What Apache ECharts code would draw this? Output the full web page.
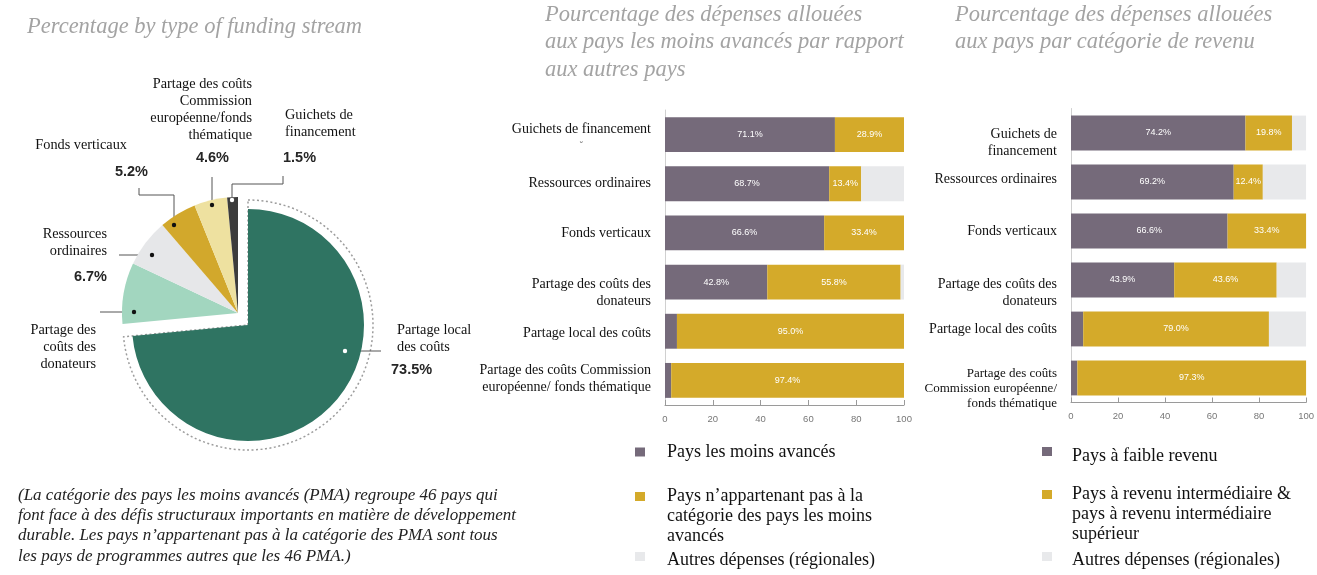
<!DOCTYPE html>
<html>
<head>
<meta charset="utf-8">
<script src="https://cdn.jsdelivr.net/npm/echarts@6/dist/echarts.min.js"></script>
<style>
html,body{margin:0;padding:0;background:#fff;}
#c{width:1317px;height:575px;}
</style>
</head>
<body>
<div id="c"></div>
<script>
// ---------- DATA ----------
const PIE_NAMES = ['Partage local des coûts', 'Partage des coûts des donateurs', 'Ressources ordinaires', 'Fonds verticaux', 'Partage des coûts Commission européenne/fonds thématique', 'Guichets de financement'];
const PIE_LABEL_TEXT = ['Partage local\ndes coûts', 'Partage des\ncoûts des\ndonateurs', 'Ressources\nordinaires', 'Fonds verticaux', 'Partage des coûts\nCommission\neuropéenne/fonds\nthématique', 'Guichets de\nfinancement'];
const PIE_VALUES = [73.5, 8.5, 6.7, 5.2, 4.6, 1.5];
const PIE_VALUE_SHOWN = [true, false, true, true, true, true];

const CATEGORIES = ['Guichets de financement', 'Ressources ordinaires', 'Fonds verticaux', 'Partage des coûts des donateurs', 'Partage local des coûts', 'Partage des coûts Commission européenne/ fonds thématique'];
const CAT_LABELS_1 = ['Guichets de financement\n˘', 'Ressources ordinaires', 'Fonds verticaux', 'Partage des coûts des\ndonateurs', 'Partage local des coûts', 'Partage des coûts Commission\neuropéenne/ fonds thématique'];
const CAT_LABELS_2 = ['Guichets de\nfinancement', 'Ressources ordinaires', 'Fonds verticaux', 'Partage des coûts des\ndonateurs', 'Partage local des coûts', 'Partage des coûts\nCommission européenne/\nfonds thématique'];

const SERIES_1 = ['Pays les moins avancés', 'Pays n’appartenant pas à la catégorie des pays les moins avancés', 'Autres dépenses (régionales)'];
const LEGEND_1 = ['Pays les moins avancés', 'Pays n’appartenant pas à la\ncatégorie des pays les moins\navancés', 'Autres dépenses (régionales)'];
const LDC = [71.1, 68.7, 66.6, 42.8, 5.0, 2.6];
const NON_LDC = [28.9, 13.4, 33.4, 55.8, 95.0, 97.4];
const OTHER_1 = [0, 17.9, 0, 1.4, 0, 0];

const SERIES_2 = ['Pays à faible revenu', 'Pays à revenu intermédiaire & pays à revenu intermédiaire supérieur', 'Autres dépenses (régionales) '];
const LEGEND_2 = ['Pays à faible revenu', 'Pays à revenu intermédiaire &\npays à revenu intermédiaire\nsupérieur', 'Autres dépenses (régionales)'];
const LOW_INC = [74.2, 69.2, 66.6, 43.9, 5.2, 2.7];
const MID_INC = [19.8, 12.4, 33.4, 43.6, 79.0, 97.3];
const OTHER_2 = [6.0, 18.4, 0, 12.5, 15.8, 0];

const X_TICKS = [0, 20, 40, 60, 80, 100];

const TITLES = ['Percentage by type of funding stream', 'Pourcentage des dépenses allouées\naux pays les moins avancés par rapport\naux autres pays', 'Pourcentage des dépenses allouées\naux pays par catégorie de revenu'];
const FOOTNOTE = '(La catégorie des pays les moins avancés (PMA) regroupe 46 pays qui\nfont face à des défis structuraux importants en matière de développement\ndurable. Les pays n’appartenant pas à la catégorie des PMA sont tous\nles pays de programmes autres que les 46 PMA.)';

// ---------- STYLE / LAYOUT ----------
const SERIF = "'Liberation Serif','DejaVu Serif',serif";
const SANS = "'Liberation Sans',Arial,sans-serif";
const PIE_COLORS = ['#2f7462', '#a2d6bf', '#e6e7e9', '#d2a82c', '#eee1a0', '#3c3c3c'];
const C_PURPLE = '#756a7a', C_GOLD = '#d4aa2a', C_GREY = '#e8e9eb';

const PIE_LABEL_POS = [
  {x: 391, y: 321.5, align: 'left', npad: [0, 0, 0, 6], vpad: [0, 0, 0, 0], vlh: 29, line: [[345, 351], [381, 351]], dot: '#fff'},
  {x: 96, y: 321.5, align: 'right', npad: [0, 0, 0, 0], vpad: [0, 0, 0, 0], vlh: 20, line: [[134, 312], [100, 312]], dot: '#111'},
  {x: 107, y: 225.5, align: 'right', npad: [0, 0, 0, 0], vpad: [0, 0, 0, 0], vlh: 35, line: [[152, 255], [119, 255]], dot: '#111'},
  {x: 148, y: 136.5, align: 'right', npad: [0, 21, 0, 0], vpad: [0, 0, 0, 0], vlh: 37, line: [[174, 225], [174, 195], [139, 195], [139, 188]], dot: '#111'},
  {x: 252, y: 75.5, align: 'right', npad: [0, 0, 0, 0], vpad: [0, 23, 0, 0], vlh: 29, line: [[212, 205], [212, 177]], dot: '#111'},
  {x: 283, y: 106.5, align: 'left', npad: [0, 0, 0, 2], vpad: [0, 0, 0, 0], vlh: 35, line: [[232, 200], [232, 184], [283, 184], [283, 176]], dot: '#fff'}
];

function pieItems(visible) {
  return PIE_NAMES.map((name, i) => {
    const on = visible(i);
    const L = PIE_LABEL_POS[i];
    return {
      name: name,
      value: PIE_VALUES[i],
      itemStyle: {color: on ? PIE_COLORS[i] : 'rgba(0,0,0,0)'},
      label: {
        show: on,
        rich: {
          n: {fontFamily: SERIF, fontSize: 14.3, lineHeight: 17, color: '#111', padding: L.npad},
          v: {fontFamily: SANS, fontWeight: 'bold', fontSize: 14.5, color: '#262626', lineHeight: L.vlh, padding: L.vpad}
        }
      },
      labelLine: {show: on}
    };
  });
}

function pieLabelFormatter(p) {
  const i = p.dataIndex;
  let s = PIE_LABEL_TEXT[i].split('\n').map(t => '{n|' + t + '}').join('\n');
  if (PIE_VALUE_SHOWN[i]) s += '\n{v|' + PIE_VALUES[i].toFixed(1) + '%}';
  return s;
}

function pieLabelLayout(p) {
  const L = PIE_LABEL_POS[p.dataIndex];
  return {x: L.x, y: L.y, align: L.align, verticalAlign: 'top', labelLinePoints: L.line};
}

const pieCommon = {
  type: 'pie',
  radius: [0, 116],
  startAngle: 90,
  clockwise: true,
  silent: true,
  avoidLabelOverlap: false,
  label: {position: 'outside', formatter: pieLabelFormatter},
  labelLine: {lineStyle: {color: '#555', width: 1}},
  labelLayout: pieLabelLayout,
  emphasis: {disabled: true}
};

// category label rich formats (vertical fine-tuning with spacer lines)
const CAT_RICH = {
  n: {fontFamily: SERIF, fontSize: 14, lineHeight: 17, color: '#111', align: 'right'},
  n13: {fontFamily: SERIF, fontSize: 13, lineHeight: 15, color: '#111', align: 'right'},
  m: {fontFamily: SANS, fontSize: 9, lineHeight: 15, color: '#666', align: 'center'}
};
[4, 6, 20, 21, 22, 26].forEach(h => { CAT_RICH['s' + h] = {lineHeight: h, fontSize: 1}; });
const lines = (t, st) => t.split('\n').map(x => '{' + st + '|' + x + '}').join('\n');
const CAT_FMT_1 = [
  t => '{s4| }\n{n|' + t.split('\n')[0] + '}\n{m|' + t.split('\n')[1] + '}',
  t => lines(t, 'n'),
  t => lines(t, 'n'),
  t => '{s22| }\n' + lines(t, 'n'),
  t => '{s4| }\n' + lines(t, 'n'),
  t => lines(t, 'n') + '\n{s4| }'
];
const CAT_FMT_2 = [
  t => '{s20| }\n' + lines(t, 'n'),
  t => lines(t, 'n') + '\n{s6| }',
  t => lines(t, 'n'),
  t => '{s26| }\n' + lines(t, 'n'),
  t => lines(t, 'n'),
  t => '{s21| }\n' + lines(t, 'n13')
];

function xAxisCfg(gi) {
  return {
    gridIndex: gi, type: 'value', min: 0, max: 100, interval: 20,
    axisLine: {show: true, lineStyle: {color: '#9a9a9a', width: 1}},
    axisTick: {show: true, inside: true, length: 5, lineStyle: {color: '#9a9a9a'}},
    axisLabel: {fontFamily: SANS, fontSize: 9.5, color: '#777', margin: 9,
      formatter: v => X_TICKS.indexOf(v) >= 0 ? String(v) : ''},
    splitLine: {show: false}
  };
}
function yAxisCfg(gi, labels, fmts) {
  return {
    gridIndex: gi, type: 'category', data: CATEGORIES, inverse: true,
    axisLine: {show: true, lineStyle: {color: '#d0d0d0', width: 1}},
    axisTick: {show: false},
    axisLabel: {margin: 14, formatter: (v, i) => fmts[i](labels[i]), rich: CAT_RICH}
  };
}
function barSeries(name, data, color, gi, showLabel) {
  return {
    name: name, type: 'bar', stack: 'g' + gi, xAxisIndex: gi, yAxisIndex: gi,
    data: data, barCategoryGap: '29%', silent: true,
    itemStyle: {color: color},
    label: {show: showLabel, position: 'inside', color: '#fff', fontFamily: SANS, fontSize: 9,
      formatter: p => p.value >= 8 ? p.value.toFixed(1) + '%' : ''},
    emphasis: {disabled: true}
  };
}

const LEGEND_RICH = {
  t: {fontFamily: SERIF, fontSize: 18, lineHeight: 20, color: '#111'},
  s8: {lineHeight: 8, fontSize: 1}, s10: {lineHeight: 10, fontSize: 1}, s40: {lineHeight: 40, fontSize: 1}
};
function legendCfg(name, text, left, top, padLeft, spacer) {
  return {
    data: [name], left: left, top: top, orient: 'vertical', padding: 0,
    icon: 'rect', itemWidth: 10, itemHeight: 9, selectedMode: false,
    formatter: () => (spacer ? '{' + spacer + '| }\n' : '') + lines(text, 't'),
    textStyle: {rich: LEGEND_RICH, padding: [0, 0, 0, padLeft]}
  };
}

const titleStyle = {fontFamily: SERIF, fontStyle: 'italic', fontWeight: 'normal', fontSize: 22.5, lineHeight: 27.5, color: '#a3a3a3'};

const option = {
  animation: false,
  backgroundColor: '#fff',
  title: [
    {text: TITLES[0], left: 27, top: 13, padding: 0, textStyle: titleStyle},
    {text: TITLES[1], left: 545, top: 1, padding: 0, textStyle: titleStyle},
    {text: TITLES[2], left: 955, top: 1, padding: 0, textStyle: titleStyle},
    {text: FOOTNOTE, left: 18, top: 485, padding: 0,
      textStyle: {fontFamily: SERIF, fontStyle: 'italic', fontWeight: 'normal', fontSize: 17, lineHeight: 20.3, color: '#222'}}
  ],
  grid: [
    {left: 665, right: 1317 - 904, top: 110, height: 295, containLabel: false},
    {left: 1071, right: 1317 - 1311, top: 108.5, height: 294, containLabel: false}
  ],
  xAxis: [xAxisCfg(0), xAxisCfg(1)],
  yAxis: [yAxisCfg(0, CAT_LABELS_1, CAT_FMT_1), yAxisCfg(1, CAT_LABELS_2, CAT_FMT_2)],
  legend: [
    legendCfg(SERIES_1[0], LEGEND_1[0], 635, 443, 17, null),
    legendCfg(SERIES_1[1], LEGEND_1[1], 635, 466, 17, 's40'),
    legendCfg(SERIES_1[2], LEGEND_1[2], 635, 546, 17, 's8'),
    legendCfg(SERIES_2[0], LEGEND_2[0], 1042, 441, 15, 's10'),
    legendCfg(SERIES_2[1], LEGEND_2[1], 1042, 464, 15, 's40'),
    legendCfg(SERIES_2[2], LEGEND_2[2], 1042, 546, 15, 's8')
  ],
  series: [
    // dotted outline around the detached slice
    {
      type: 'pie', center: [248, 325], radius: [0, 125], startAngle: 90, silent: true, z: 1,
      label: {show: false}, labelLine: {show: false}, emphasis: {disabled: true},
      data: PIE_NAMES.map((n, i) => ({
        name: n, value: PIE_VALUES[i],
        itemStyle: i === 0 ? {color: 'rgba(0,0,0,0)', borderColor: '#9c9c9c', borderWidth: 1.5, borderType: [2, 2.5]}
                           : {color: 'rgba(0,0,0,0)', borderWidth: 0}
      }))
    },
    Object.assign({}, pieCommon, {center: [248, 325], z: 2, data: pieItems(i => i === 0)}),
    Object.assign({}, pieCommon, {center: [238, 313], z: 2, data: pieItems(i => i !== 0)}),
    barSeries(SERIES_1[0], LDC, C_PURPLE, 0, true),
    barSeries(SERIES_1[1], NON_LDC, C_GOLD, 0, true),
    barSeries(SERIES_1[2], OTHER_1, C_GREY, 0, false),
    barSeries(SERIES_2[0], LOW_INC, C_PURPLE, 1, true),
    barSeries(SERIES_2[1], MID_INC, C_GOLD, 1, true),
    barSeries(SERIES_2[2], OTHER_2, C_GREY, 1, false)
  ],
  graphic: PIE_LABEL_POS.map(L => ({
    type: 'circle', shape: {cx: L.line[0][0], cy: L.line[0][1], r: 2.2},
    style: {fill: L.dot}, z: 100, silent: true
  }))
};

const chart = echarts.init(document.getElementById('c'), null, {renderer: 'canvas'});
chart.setOption(option);
</script>
</body>
</html>
